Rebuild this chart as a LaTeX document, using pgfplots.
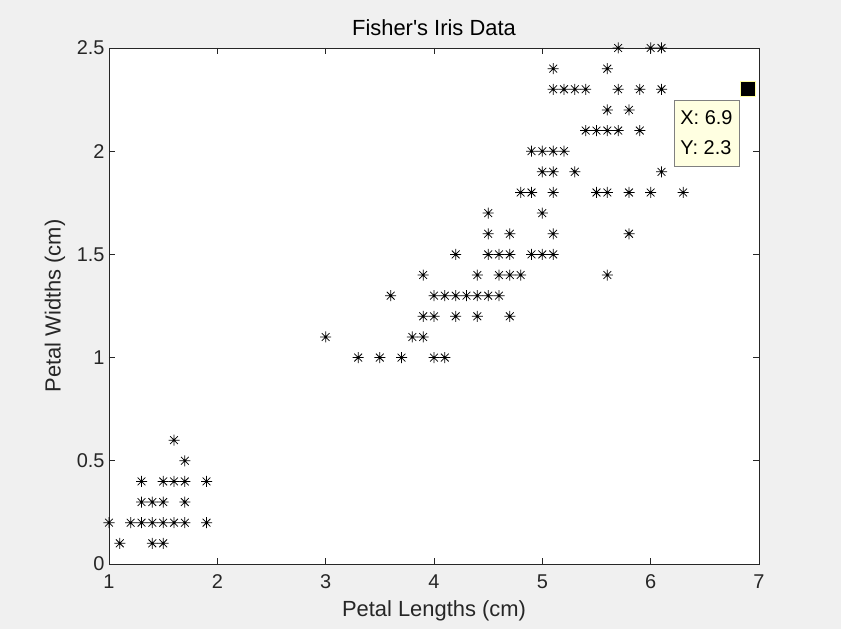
\documentclass[border=0pt]{standalone}
\usepackage{fontspec}
\setmainfont{Liberation Sans}[Ligatures=TeXOff]
\usepackage{pgfplots}
\pgfplotsset{compat=1.18}

\definecolor{figbg}{RGB}{240,240,240}
\definecolor{axcol}{RGB}{38,38,38}
\definecolor{tipbg}{RGB}{255,255,225}

% matlab style '*' marker: plus and cross together
\pgfdeclareplotmark{mstar}{%
  \pgfpathmoveto{\pgfqpoint{-\pgfplotmarksize}{0pt}}%
  \pgfpathlineto{\pgfqpoint{\pgfplotmarksize}{0pt}}%
  \pgfpathmoveto{\pgfqpoint{0pt}{-\pgfplotmarksize}}%
  \pgfpathlineto{\pgfqpoint{0pt}{\pgfplotmarksize}}%
  \pgfpathmoveto{\pgfqpoint{-.707\pgfplotmarksize}{-.707\pgfplotmarksize}}%
  \pgfpathlineto{\pgfqpoint{.707\pgfplotmarksize}{.707\pgfplotmarksize}}%
  \pgfpathmoveto{\pgfqpoint{-.707\pgfplotmarksize}{.707\pgfplotmarksize}}%
  \pgfpathlineto{\pgfqpoint{.707\pgfplotmarksize}{-.707\pgfplotmarksize}}%
  \pgfusepathqstroke}

\begin{document}
\begin{tikzpicture}
\fill[figbg] (0,0) rectangle (841bp,629bp);
\useasboundingbox (0,0) rectangle (841bp,629bp);
\begin{axis}[
    at={(109bp,65bp)}, anchor=south west,
    width=650bp, height=516bp, scale only axis,
    xmin=1, xmax=7, ymin=0, ymax=2.5,
    xtick={1,2,...,7},
    ytick={0,0.5,1,1.5,2,2.5},
    yticklabels={0,0.5,1,1.5,2,2.5},
    axis background/.style={fill=white},
    axis line style={axcol, line width=0.6bp},
    tick style={axcol, line width=0.6bp},
    major tick length=6bp,
    tick align=inside,
    ticklabel style={font=\fontsize{20}{24}\selectfont, text=axcol},
    /pgf/number format/assume math mode=true,
    xticklabel style={yshift=-7bp},
    yticklabel style={xshift=-1bp},
    title={Fisher's Iris Data},
    title style={font=\fontsize{22}{26}\selectfont, at={(axis description cs:0.5,1.027)}, anchor=center},
    xlabel={Petal Lengths (cm)},
    xlabel style={font=\fontsize{22}{26}\selectfont, text=axcol, at={(axis description cs:0.5,-0.0911)}, anchor=center},
    ylabel={Petal Widths (cm)},
    ylabel style={font=\fontsize{22}{26}\selectfont, text=axcol, at={(axis description cs:-0.0831,0.5)}, anchor=center},
    clip=false,
]
% distinct (length, width) pairs of the iris data
\addplot[only marks, mark=mstar, mark size=5.5bp, black, line width=0.75bp] coordinates {
(1.0,0.2)(1.1,0.1)(1.2,0.2)(1.3,0.2)(1.3,0.3)(1.3,0.4)(1.4,0.1)(1.4,0.2)(1.4,0.3)(1.5,0.1)
(1.5,0.2)(1.5,0.3)(1.5,0.4)(1.6,0.2)(1.6,0.4)(1.6,0.6)(1.7,0.2)(1.7,0.3)(1.7,0.4)(1.7,0.5)
(1.9,0.2)(1.9,0.4)
(3.0,1.1)(3.3,1.0)(3.5,1.0)(3.6,1.3)(3.7,1.0)(3.8,1.1)(3.9,1.1)(3.9,1.2)(3.9,1.4)(4.0,1.0)
(4.0,1.2)(4.0,1.3)(4.1,1.0)(4.1,1.3)(4.2,1.2)(4.2,1.3)(4.2,1.5)(4.3,1.3)(4.4,1.2)(4.4,1.3)
(4.4,1.4)(4.5,1.3)(4.5,1.5)(4.5,1.6)(4.6,1.3)(4.6,1.4)(4.6,1.5)(4.7,1.2)(4.7,1.4)(4.7,1.5)
(4.7,1.6)(4.8,1.4)(4.8,1.8)(4.9,1.5)(5.0,1.7)(5.1,1.6)
(4.5,1.7)(4.9,1.8)(4.9,2.0)(5.0,1.5)(5.0,1.9)(5.0,2.0)(5.1,1.5)(5.1,1.8)(5.1,1.9)(5.1,2.0)
(5.1,2.3)(5.1,2.4)(5.2,2.0)(5.2,2.3)(5.3,1.9)(5.3,2.3)(5.4,2.1)(5.4,2.3)(5.5,1.8)(5.5,2.1)
(5.6,1.4)(5.6,1.8)(5.6,2.1)(5.6,2.2)(5.6,2.4)(5.7,2.1)(5.7,2.3)(5.7,2.5)(5.8,1.6)(5.8,1.8)
(5.8,2.2)(5.9,2.1)(5.9,2.3)(6.0,1.8)(6.0,2.5)(6.1,1.9)(6.1,2.3)(6.1,2.5)(6.3,1.8)(6.4,2.0)
(6.6,2.1)(6.7,2.0)(6.7,2.2)
};
\addplot[only marks, mark=square*, mark size=7.5bp, mark options={fill=black, draw=tipbg!70!yellow, line width=0.6bp}] coordinates {(6.9,2.3)};
\coordinate (tip) at (axis cs:6.515,2.088);
\end{axis}
% data tip, drawn over the marks
\node[draw=gray, fill=tipbg, line width=0.8bp, minimum width=65bp, minimum height=66bp,
      inner sep=5bp, align=left, font=\fontsize{20}{30}\selectfont, text=black]
      at (tip) {X: 6.9\\Y: 2.3};
\end{tikzpicture}
\end{document}
